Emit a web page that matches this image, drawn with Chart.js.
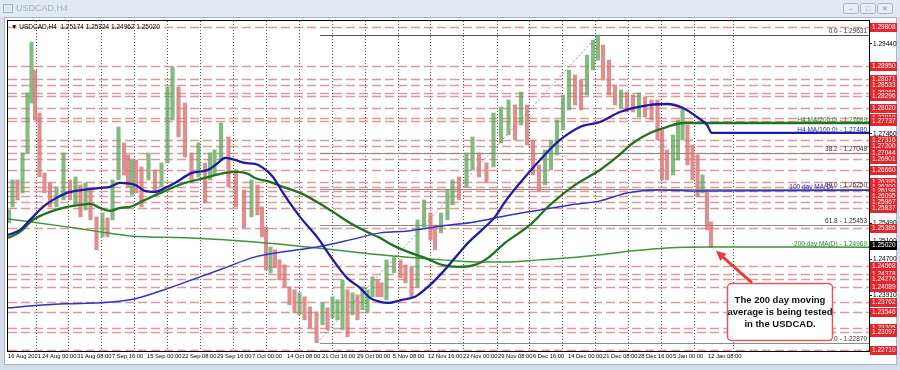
<!DOCTYPE html>
<html>
<head>
<meta charset="utf-8">
<script src="https://cdn.jsdelivr.net/npm/chart.js@4.4.0/dist/chart.umd.min.js"></script>
<style>
html, body { margin: 0; padding: 0; background: #d5dde8; }
canvas { display: block; }
</style>
</head>
<body>
<canvas id="chart" width="900" height="370"></canvas>
<script>
// H4 price, sampled roughly once a day; x = bar number from the left edge
const barIdx = [1, 4.5, 9.5, 14.5, 19.5, 23.5, 27, 31.5, 36.5, 42, 48.5, 55.5, 62, 67.5, 72.5, 77.5, 82.5, 88.5, 94.5, 99.5,
  104.5, 110.5, 116, 120, 124, 128, 133.5, 140.5, 147, 153.5, 159.5, 164.5, 170.5, 177, 183.5, 190.5, 197, 202, 206.5, 213,
  220.5, 228, 236, 243.5, 249.5, 254, 258, 262.5, 267, 271.5, 276.5, 281.5, 286.5, 291.5, 296.5, 302, 308.5, 314.5, 319.5, 324.5,
  329.5, 334.5, 339.5, 344.5, 349.5, 354.5, 359.5, 364.5, 369.5, 373.5, 378.5, 386, 392.5, 397.5, 403.5, 409.5, 416, 422.5, 427, 433,
  439.5, 444.5, 451, 458.5, 464.5, 471, 478.5, 485.5, 493, 500.5, 507, 513, 519, 525, 531, 537, 543, 549, 555, 561,
  567, 573, 579, 585, 590, 595, 601, 607, 613, 619, 625, 631, 637, 643.5, 649.5, 654, 659, 665, 670, 674.5,
  679.5, 684.5, 689.5, 694.5, 699, 703];
const barHigh = [1.25790, 1.26448, 1.26448, 1.27041, 1.28358, 1.29477, 1.28863, 1.27919, 1.26602, 1.26382, 1.26295, 1.27041, 1.26448, 1.26514, 1.26339, 1.26382, 1.26229, 1.25636, 1.25724, 1.25614,
  1.26448, 1.27612, 1.27260, 1.26997, 1.26887, 1.26887, 1.26734, 1.27041, 1.26668, 1.26821, 1.28490, 1.28929, 1.28490, 1.28138, 1.27041, 1.27260, 1.26821, 1.27041, 1.27107, 1.27699,
  1.27392, 1.26668, 1.26229, 1.26448, 1.26339, 1.25856, 1.25417, 1.24977, 1.24912, 1.24692, 1.24582, 1.24099, 1.24033, 1.23968, 1.23880, 1.23660, 1.23551, 1.23748, 1.23638, 1.23880,
  1.23814, 1.24253, 1.24033, 1.23968, 1.23924, 1.24099, 1.24033, 1.24319, 1.24253, 1.24187, 1.24692, 1.24758, 1.24692, 1.24582, 1.24538, 1.25570, 1.26010, 1.25724, 1.25460, 1.25724,
  1.26229, 1.26448, 1.26514, 1.27041, 1.27392, 1.27041, 1.26821, 1.27919, 1.28051, 1.28204, 1.28095, 1.28380, 1.28095, 1.27326, 1.26777, 1.27107, 1.27326, 1.27765, 1.28314, 1.28863,
  1.28753, 1.28643, 1.29192, 1.29521, 1.29631, 1.29412, 1.29082, 1.28534, 1.28424, 1.28380, 1.28314, 1.28358, 1.28270, 1.28204, 1.28204, 1.27546, 1.27107, 1.27436, 1.27765, 1.28029,
  1.27655, 1.27216, 1.26997, 1.26558, 1.26229, 1.25526];
const barLow = [1.25504, 1.25856, 1.26010, 1.26163, 1.27041, 1.28138, 1.27765, 1.26514, 1.26163, 1.25856, 1.25856, 1.26010, 1.26010, 1.25900, 1.25636, 1.25790, 1.25570, 1.24912, 1.25197, 1.25197,
  1.25570, 1.26448, 1.26558, 1.26295, 1.26119, 1.26163, 1.25856, 1.26448, 1.26163, 1.26295, 1.26821, 1.27765, 1.27392, 1.26953, 1.26382, 1.26514, 1.25944, 1.26448, 1.26558, 1.26887,
  1.26295, 1.25856, 1.25395, 1.25636, 1.25680, 1.25197, 1.24473, 1.24407, 1.24516, 1.24253, 1.24099, 1.23704, 1.23529, 1.23485, 1.23375, 1.23199, 1.22870, 1.23266, 1.23156, 1.23419,
  1.23375, 1.23156, 1.23002, 1.23485, 1.23375, 1.23595, 1.23529, 1.23880, 1.23880, 1.23880, 1.23814, 1.24407, 1.24297, 1.24187, 1.23880, 1.24099, 1.25417, 1.25131, 1.24912, 1.25285,
  1.25570, 1.25900, 1.26010, 1.26295, 1.26668, 1.26514, 1.26382, 1.26734, 1.27260, 1.27436, 1.27326, 1.27655, 1.27216, 1.26558, 1.26185, 1.26339, 1.26668, 1.26997, 1.27546, 1.27985,
  1.28095, 1.27985, 1.28314, 1.28863, 1.29082, 1.28643, 1.28314, 1.28095, 1.28029, 1.27941, 1.27941, 1.27831, 1.27831, 1.27765, 1.27326, 1.26448, 1.26448, 1.26558, 1.26887, 1.27326,
  1.26777, 1.26448, 1.26075, 1.26163, 1.25351, 1.24962];
const barUp = [1, 1, 0, 1, 1, 1, 0, 0, 0, 0, 1, 1, 0, 1, 0, 1, 0, 0, 1, 0,
  1, 1, 0, 0, 1, 0, 0, 1, 0, 1, 1, 1, 0, 0, 0, 1, 0, 1, 1, 1,
  0, 0, 0, 1, 0, 0, 0, 1, 0, 0, 0, 0, 0, 1, 0, 0, 0, 1, 0, 1,
  1, 1, 0, 1, 0, 1, 1, 1, 0, 0, 1, 1, 0, 0, 0, 1, 1, 0, 0, 1,
  1, 1, 0, 1, 1, 0, 0, 1, 1, 1, 0, 1, 0, 0, 0, 1, 1, 1, 1, 1,
  0, 0, 1, 1, 1, 0, 0, 0, 1, 0, 0, 1, 0, 0, 0, 0, 0, 1, 1, 1,
  0, 0, 0, 1, 0, 0];
const lastBar = [1.25174, 1.25324, 1.24962, 1.25020];

// moving averages
const ma100H4Bars = [0, 12, 22, 35, 45, 59, 75, 92, 102, 112, 127, 137, 147, 157, 167, 184, 200, 210, 217, 227,
  237, 247, 255, 265, 275, 292, 309, 325, 339, 352, 362, 372, 380, 394, 407, 420, 434, 447, 460, 474,
  487, 497, 512, 532, 552, 572, 592, 612, 642, 659, 675, 689, 699, 704, 861];
const ma100H4 = [1.25241, 1.25351, 1.25570, 1.25856, 1.26010, 1.26163, 1.26229, 1.26273, 1.26295, 1.26382, 1.26339, 1.26207, 1.26185, 1.26273, 1.26382, 1.26602, 1.26668, 1.26821, 1.26931, 1.26887,
  1.26821, 1.26799, 1.26712, 1.26514, 1.26163, 1.25636, 1.25197, 1.24692, 1.24297, 1.24077, 1.23858, 1.23770, 1.23748, 1.23814, 1.23880, 1.24099, 1.24407, 1.24736, 1.25065, 1.25351,
  1.25636, 1.25966, 1.26382, 1.26887, 1.27326, 1.27612, 1.27721, 1.27941, 1.28095, 1.28116, 1.28029, 1.27831, 1.27655, 1.27480, 1.27480];

const ma200H4Bars = [0, 12, 25, 42, 59, 72, 82, 92, 102, 112, 122, 137, 157, 177, 197, 217, 230, 240, 247, 262,
  275, 292, 309, 325, 342, 359, 372, 384, 400, 417, 434, 450, 467, 480, 497, 522, 542, 567, 592, 609,
  625, 642, 659, 675, 692, 861];
const ma200H4 = [1.25175, 1.25307, 1.25570, 1.25746, 1.25856, 1.25900, 1.25922, 1.25834, 1.25768, 1.25834, 1.25856, 1.26010, 1.26207, 1.26382, 1.26492, 1.26602, 1.26624, 1.26580, 1.26492, 1.26404,
  1.26295, 1.26163, 1.25966, 1.25746, 1.25504, 1.25307, 1.25175, 1.25021, 1.24868, 1.24736, 1.24582, 1.24538, 1.24582, 1.24736, 1.25065, 1.25460, 1.25900, 1.26339, 1.26668, 1.26953,
  1.27260, 1.27480, 1.27612, 1.27699, 1.27699, 1.27699];

const ma100DBars = [0, 25, 59, 92, 122, 150, 184, 217, 247, 275, 309, 342, 372, 400, 434, 467, 497, 532, 562, 592, 619, 652, 692, 861];
const ma100D = [1.23638, 1.23682, 1.23726, 1.23748, 1.23814, 1.23990, 1.24253, 1.24516, 1.24758, 1.24868, 1.24977, 1.25131, 1.25285, 1.25329, 1.25438, 1.25526, 1.25658, 1.25790, 1.25900, 1.25988, 1.26163, 1.26229, 1.26207, 1.26220];

const ma200DBars = [0, 59, 92, 122, 184, 247, 309, 372, 434, 467, 497, 532, 562, 592, 625, 659, 702, 861];
const ma200D = [1.25592, 1.25417, 1.25307, 1.25219, 1.25175, 1.25087, 1.24955, 1.24802, 1.24692, 1.24648, 1.24648, 1.24692, 1.24736, 1.24802, 1.24890, 1.24955, 1.24977, 1.24969];

// horizontal levels (red dashed) and price scale
const levelPrices = [1.29808, 1.28950, 1.28671, 1.28533, 1.28368, 1.28296, 1.28020, 1.27819, 1.27737, 1.27316,
  1.27200, 1.27044, 1.26901, 1.26660, 1.26395, 1.26300, 1.26198, 1.26095, 1.25967, 1.25837,
  1.25386, 1.24568, 1.24378, 1.24276, 1.24089, 1.23762, 1.23546, 1.23205, 1.23097, 1.22710];
const axisPrices = [1.29440, 1.28945, 1.27460, 1.25490, 1.25100, 1.24700, 1.23910];

// fibonacci retracement of the Oct low / Dec high
const fibRatios = ['0.0', '38.2', '50.0', '61.8', '100.0'];
const fibPrices = [1.29631, 1.27048, 1.26250, 1.25453, 1.22870];
const fibLowBar = 309, fibHighBar = 590, fibStartBar = 312;

// time axis
const timeLabels = ['16 Aug 2021', '24 Aug 00:00', '31 Aug 08:00', '7 Sep 16:00', '15 Sep 00:00', '22 Sep 08:00', '29 Sep 16:00',
  '7 Oct 00:00', '14 Oct 08:00', '21 Oct 16:00', '29 Oct 00:00', '5 Nov 08:00', '12 Nov 16:00', '22 Nov 00:00',
  '29 Nov 08:00', '6 Dec 16:00', '14 Dec 00:00', '21 Dec 08:00', '28 Dec 16:00', '5 Jan 00:00', '12 Jan 08:00'];
const timeLabelBars = [0, 34, 69, 104, 139, 174, 209, 244, 279, 314, 349, 385, 420, 455, 490, 525, 560, 595, 630, 665, 700];
const gridBars = [28, 60, 93, 126, 159, 192, 225, 258, 291, 324, 357, 390, 422, 455, 489, 521, 554, 587, 620, 653, 686, 725];

const FONT = 'Liberation Sans, Arial, sans-serif';
const pts = (xs, ys) => xs.map((x, i) => ({ x: x, y: ys[i] }));

// window frame, title bar
const chromePlugin = {
    id: 'chrome',
    beforeDraw(chart) {
        const c = chart.ctx;
        c.save();
        c.fillStyle = '#d5dde8';
        c.fillRect(0, 0, 900, 370);
        c.fillStyle = '#e3e9f1';
        c.fillRect(0, 0, 900, 17);
        // icon
        c.strokeStyle = '#9fb1c6';
        c.strokeRect(3.5, 4.5, 9, 8);
        c.fillStyle = '#9fb1c6';
        c.font = '9px ' + FONT;
        c.textBaseline = 'middle';
        c.fillText('USDCAD,H4', 16, 9);
        // buttons
        [843, 860, 877].forEach((bx, i) => {
            c.fillStyle = '#e9eef5';
            c.strokeStyle = '#a7b5c6';
            c.beginPath();
            c.roundRect(bx + 0.5, 3.5, 15, 10, 2);
            c.fill();
            c.stroke();
            c.fillStyle = '#8194ab';
            c.font = '7px ' + FONT;
            c.textAlign = 'center';
            c.fillText(['\u2013', '\u25a1', '\u2715'][i], bx + 8, 9);
        });
        c.textAlign = 'left';
        c.fillStyle = '#ffffff';
        c.fillRect(5, 18, 891, 346);
        c.strokeStyle = '#a9b4c2';
        c.strokeRect(4.5, 17.5, 892, 347);
        c.restore();
    }
};

// red dashed levels + fibo lines under the bars
const levelsPlugin = {
    id: 'levels',
    beforeDatasetsDraw(chart) {
        const c = chart.ctx, a = chart.chartArea;
        const xs = chart.scales.x, ys = chart.scales.y;
        c.save();
        c.beginPath();
        c.rect(a.left, a.top, a.right - a.left, a.bottom - a.top);
        c.clip();
        c.lineWidth = 1.5;
        c.strokeStyle = 'rgba(210,110,110,0.7)';
        c.setLineDash([9, 4]);
        levelPrices.forEach(p => {
            const y = Math.round(ys.getPixelForValue(p)) + 0.5;
            c.beginPath();
            c.moveTo(a.left, y);
            c.lineTo(a.right, y);
            c.stroke();
        });
        c.setLineDash([]);
        c.lineWidth = 1;
        const fx = xs.getPixelForValue(fibStartBar);
        fibPrices.forEach((p, i) => {
            const y = Math.round(ys.getPixelForValue(p)) + 0.5;
            c.strokeStyle = i === 0 ? '#555555' : '#8c8c8c';
            c.beginPath();
            c.moveTo(fx, y);
            c.lineTo(a.right, y);
            c.stroke();
        });
        c.setLineDash([2, 2]);
        c.strokeStyle = '#999999';
        c.beginPath();
        c.moveTo(xs.getPixelForValue(fibLowBar), ys.getPixelForValue(fibPrices[4]));
        c.lineTo(xs.getPixelForValue(fibHighBar), ys.getPixelForValue(fibPrices[0]));
        c.stroke();
        c.restore();
    }
};

// texts, right axis boxes, note
const overlayPlugin = {
    id: 'overlay',
    afterDraw(chart) {
        const c = chart.ctx, a = chart.chartArea;
        const xs = chart.scales.x, ys = chart.scales.y;
        c.save();
        c.textBaseline = 'alphabetic';
        c.font = '6.5px ' + FONT;
        c.textAlign = 'right';
        fibPrices.forEach((p, i) => {
            const y = ys.getPixelForValue(p);
            c.fillStyle = '#333333';
            c.fillText(fibRatios[i] + ' - ' + p.toFixed(5), a.right - 2, y - 2);
        });
        c.fillStyle = '#2a8a2a';
        c.fillText('H4 MA(200,0) - ' + ma200H4[ma200H4.length - 1].toFixed(5), a.right - 2, ys.getPixelForValue(ma200H4[ma200H4.length - 1]) - 1);
        c.fillStyle = '#2030c0';
        c.fillText('H4 MA(100,0) - ' + ma100H4[ma100H4.length - 1].toFixed(5), a.right - 2, ys.getPixelForValue(ma100H4[ma100H4.length - 1]) - 1);
        c.fillText('100 day MA(D)', a.right - 36, ys.getPixelForValue(ma100D[ma100D.length - 1]) - 1);
        c.fillStyle = '#2a8a2a';
        c.fillText('200 day MA(D) - ' + ma200D[ma200D.length - 1].toFixed(5), a.right - 2, ys.getPixelForValue(ma200D[ma200D.length - 1]) - 1);

        // header line
        c.textAlign = 'left';
        c.fillStyle = '#000000';
        c.fillText('\u25bc USDCAD,H4  ' + lastBar.map(v => v.toFixed(5)).join(' '), a.left + 3, a.top + 8);

        // frame
        c.strokeStyle = '#000000';
        c.lineWidth = 1;
        c.strokeRect(a.left - 0.5, a.top - 0.5, a.right - a.left + 1, a.bottom - a.top + 1);

        // level labels on the price scale
        c.textBaseline = 'middle';
        levelPrices.forEach(p => {
            const y = Math.round(ys.getPixelForValue(p));
            c.fillStyle = '#e2262c';
            c.fillRect(a.right + 1, y - 4, 27, 9);
            c.fillStyle = '#ffffff';
            c.fillText(p.toFixed(5), a.right + 3, y + 0.5);
        });
        const yc = Math.round(ys.getPixelForValue(lastBar[3]));
        c.fillStyle = '#000000';
        c.fillRect(a.right + 1, yc - 4, 27, 9);
        c.fillStyle = '#ffffff';
        c.fillText(lastBar[3].toFixed(5), a.right + 3, yc + 0.5);

        // arrow to the last bar
        const tx = xs.getPixelForValue(708), ty = ys.getPixelForValue(1.2489);
        const sx = tx + 36, sy = ty + 32;
        const ang = Math.atan2(ty - sy, tx - sx);
        c.strokeStyle = '#e0403c';
        c.fillStyle = '#e0403c';
        c.lineWidth = 3;
        c.beginPath();
        c.moveTo(sx, sy);
        c.lineTo(tx - 6 * Math.cos(ang), ty - 6 * Math.sin(ang));
        c.stroke();
        c.beginPath();
        c.moveTo(tx, ty);
        c.lineTo(tx - 11 * Math.cos(ang - 0.45), ty - 11 * Math.sin(ang - 0.45));
        c.lineTo(tx - 11 * Math.cos(ang + 0.45), ty - 11 * Math.sin(ang + 0.45));
        c.closePath();
        c.fill();

        // note box
        c.fillStyle = '#ffffff';
        c.strokeStyle = '#e05a5a';
        c.lineWidth = 1.5;
        c.beginPath();
        c.roundRect(727.5, 283.5, 105, 57, 4);
        c.fill();
        c.stroke();
        c.fillStyle = '#111111';
        c.font = 'bold 9.5px ' + FONT;
        c.textAlign = 'center';
        ['The 200 day moving', 'average is being tested', 'in the USDCAD.'].forEach((t, i) => {
            c.fillText(t, 780, 300 + i * 12);
        });
        c.restore();
    }
};

new Chart(document.getElementById('chart'), {
    type: 'line',
    data: {
        datasets: [
            {
                type: 'line',
                label: 'H4 MA(100)',
                data: pts(ma100H4Bars, ma100H4),
                borderColor: '#1c1ca6',
                borderWidth: 2.3,
                pointRadius: 0,
                cubicInterpolationMode: 'monotone',
                order: 1
            },
            {
                type: 'line',
                label: 'H4 MA(200)',
                data: pts(ma200H4Bars, ma200H4),
                borderColor: '#1f741f',
                borderWidth: 2.3,
                pointRadius: 0,
                cubicInterpolationMode: 'monotone',
                order: 2
            },
            {
                type: 'line',
                label: '100 day MA',
                data: pts(ma100DBars, ma100D),
                borderColor: '#2a34cc',
                borderWidth: 1.5,
                pointRadius: 0,
                cubicInterpolationMode: 'monotone',
                order: 3
            },
            {
                type: 'line',
                label: '200 day MA',
                data: pts(ma200DBars, ma200D),
                borderColor: '#3a963a',
                borderWidth: 1.5,
                pointRadius: 0,
                cubicInterpolationMode: 'monotone',
                order: 4
            },
            {
                type: 'bar',
                label: 'USDCAD',
                data: barIdx.map((b, i) => ({ x: b, y: [barLow[i], barHigh[i]] })),
                backgroundColor: barUp.map(u => u ? 'rgba(100,170,100,0.8)' : 'rgba(214,116,116,0.8)'),
                barThickness: 3.5,
                grouped: false,
                order: 10
            }
        ]
    },
    options: {
        responsive: false,
        animation: false,
        devicePixelRatio: 1,
        events: [],
        layout: { padding: { left: 8, top: 21, right: 0, bottom: 0 } },
        plugins: {
            legend: { display: false },
            tooltip: { enabled: false }
        },
        scales: {
            x: {
                type: 'linear',
                position: 'bottom',
                min: 0,
                max: 861,
                offset: false,
                bounds: 'data',
                grid: { display: false, drawTicks: false, tickLength: 0 },
                border: { display: false },
                afterBuildTicks: s => { s.ticks = timeLabelBars.map(v => ({ value: v })); },
                afterFit: s => { s.height = 19; s.paddingLeft = 0; s.paddingRight = 0; },
                ticks: {
                    autoSkip: false,
                    maxRotation: 0,
                    align: 'start',
                    padding: 2,
                    color: '#000000',
                    font: { family: FONT, size: 5.8 },
                    callback: (v, i) => timeLabels[i]
                }
            },
            xg: {
                type: 'linear',
                position: 'bottom',
                min: 0,
                max: 861,
                offset: false,
                bounds: 'data',
                afterBuildTicks: s => { s.ticks = gridBars.map(v => ({ value: v })); },
                afterFit: s => { s.height = 0; s.paddingLeft = 0; s.paddingRight = 0; },
                ticks: { display: false },
                grid: { color: '#555555', lineWidth: 1, drawTicks: false },
                border: { display: false, dash: [1, 2] }
            },
            y: {
                type: 'linear',
                position: 'right',
                min: 1.2269,
                max: 1.2994,
                bounds: 'data',
                afterBuildTicks: s => { s.ticks = axisPrices.map(v => ({ value: v })); },
                afterFit: s => { s.width = 31; s.paddingTop = 0; s.paddingBottom = 0; },
                grid: { drawOnChartArea: false, drawTicks: true, tickLength: 3, color: '#000000' },
                border: { display: true, color: '#000000' },
                ticks: {
                    padding: 1,
                    color: '#000000',
                    font: { family: FONT, size: 6.5 },
                    callback: v => v.toFixed(5)
                }
            }
        }
    },
    plugins: [chromePlugin, levelsPlugin, overlayPlugin]
});
</script>
</body>
</html>
